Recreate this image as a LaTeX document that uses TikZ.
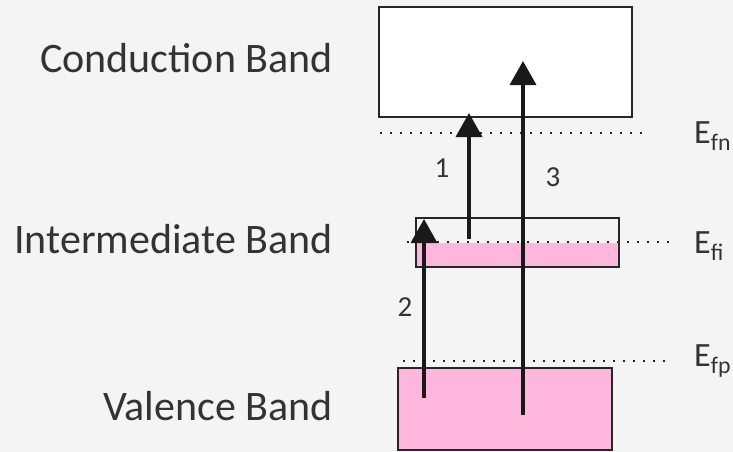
\documentclass[tikz,border=0pt]{standalone}
\usepackage{fontspec}
\setmainfont{Carlito}
\usepackage{tikz}
\usetikzlibrary{arrows.meta}
\definecolor{bandpink}{HTML}{FFB6DC}
\definecolor{bggray}{HTML}{F4F4F4}
\definecolor{txtgray}{HTML}{333333}

\begin{document}
\begin{tikzpicture}[x=1pt,y=-1pt,
        band/.style={draw=black!85, line width=1.3pt, inner sep=0pt},
        level/.style={black!85, line width=2pt, dash pattern=on 2pt off 8pt},
        jump/.style={-{Triangle[width=26pt,length=24pt]}, line width=3.6pt, black!90},
        bandname/.style={anchor=base east, inner sep=0pt, text=txtgray, font=\fontsize{42}{48}\selectfont},
        fermi/.style={anchor=base west, inner sep=0pt, text=txtgray, font=\fontsize{34}{40}\selectfont},
        jumpnum/.style={inner sep=0pt, text=txtgray, font=\fontsize{29}{32}\selectfont}]
        \useasboundingbox (0,0) rectangle (733,452);
        \fill[bggray] (0,0) rectangle (733,452);

        % Draw the bands
        \node[band, fill=white, minimum width=253pt, minimum height=110pt] (cb) at (505.5,62) {};
        \node[band, minimum width=203pt, minimum height=49pt,
            path picture={\fill[bandpink] (path picture bounding box.west) rectangle (path picture bounding box.south east);}] (ib) at (517.5,242.5) {};
        \node[band, fill=bandpink, minimum width=214pt, minimum height=82pt] (vb) at (505,409) {};

        % Label the bands
        \node[bandname] (cbl) at (333,72) {Conduction Band};
        \node[bandname] (ibl) at (333,253) {Intermediate Band};
        \node[bandname] (vbl) at (333,420) {Valence Band};

        % Draw the quasi-Fermi levels
        \draw[level] (380,133) -- (648,133);
        \draw[level] (407,242) -- (675,242);
        \draw[level] (403,361) -- (672,361);
        \node[fermi] (efn) at (694,143) {E\textsubscript{fn}};
        \node[fermi] (efi) at (694,253) {E\textsubscript{fi}};
        \node[fermi] (efp) at (694,366) {E\textsubscript{fp}};

        % Draw the transitions
        \coordinate (s1) at (469,239);
        \coordinate (t1) at (469,113);
        \coordinate (s2) at (424,398);
        \coordinate (t2) at (424,219);
        \coordinate (s3) at (523,415);
        \coordinate (t3) at (523,61);
        \draw[jump] (s1) -- (t1);
        \draw[jump] (s2) -- (t2);
        \draw[jump] (s3) -- (t3);
        \node[jumpnum] (n1) at (442,168) {1};
        \node[jumpnum] (n2) at (405,307) {2};
        \node[jumpnum] (n3) at (553,177) {3};
    \end{tikzpicture}
\end{document}
